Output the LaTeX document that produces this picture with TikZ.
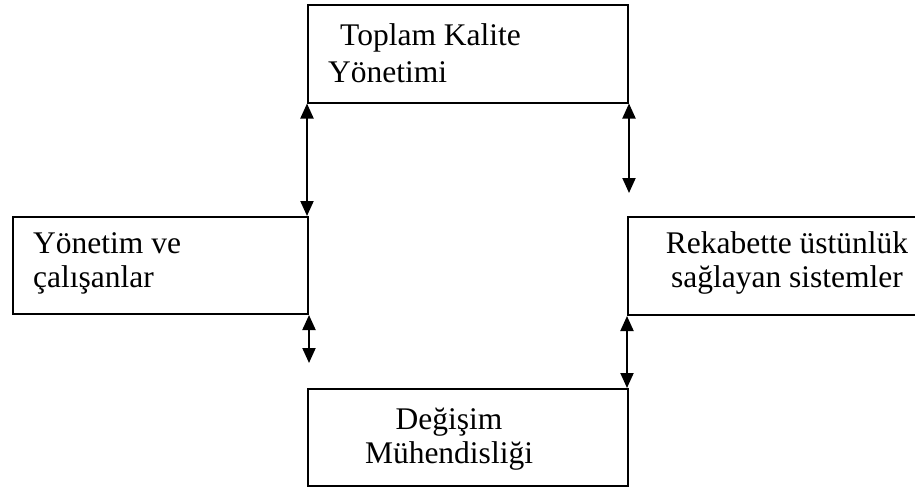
\documentclass[tikz,border=0pt]{standalone}
\usepackage{fontspec}
\setmainfont{Liberation Serif}
\usetikzlibrary{arrows.meta}
\begin{document}
\begin{tikzpicture}[x=1pt,y=-1pt,
  box/.style={draw,line width=2pt,rectangle,inner sep=0pt,anchor=north west},
  lbl/.style={inner sep=0pt,anchor=west,font=\fontsize{31.5}{36}\selectfont},
  link/.style={line width=2pt,{Triangle[length=15pt,width=13pt]}-{Triangle[length=15pt,width=13pt]}}]
\useasboundingbox (0,0) rectangle (915,487);
% boxes
\node[box,minimum width=320pt,minimum height=97pt] (tqm) at (307,4.5) {};
\node[box,minimum width=295pt,minimum height=97pt] (staff) at (12,216) {};
\node[box,minimum width=320pt,minimum height=98pt] (comp) at (627,216) {};
\node[box,minimum width=320pt,minimum height=97pt] (reeng) at (307,388) {};
% labels
\node[lbl] (t1) at (340,38) {Toplam Kalite};
\node[lbl] (t2) at (328,72) {Yönetimi};
\node[lbl] (s1) at (33,243) {Yönetim ve};
\node[lbl] (s2) at (33,280) {çalışanlar};
\node[lbl,anchor=center] (c1) at (787,243) {Rekabette üstünlük};
\node[lbl,anchor=center] (c2) at (787,280) {sağlayan sistemler};
\node[lbl,anchor=center] (r1) at (449,422) {Değişim};
\node[lbl,anchor=center] (r2) at (449,456) {Mühendisliği};
% free ends of the short connectors
\coordinate (e1) at (tqm.south east |- 0,193);
\coordinate (e2) at (staff.south east |- 0,363);
% connectors
\draw[link] (tqm.south west) -- (tqm.south west |- staff.north);
\draw[link] (tqm.south east) -- (e1);
\draw[link] (staff.south east) -- (e2);
\draw[link] (comp.south west) -- (comp.south west |- reeng.north);
\end{tikzpicture}
\end{document}
